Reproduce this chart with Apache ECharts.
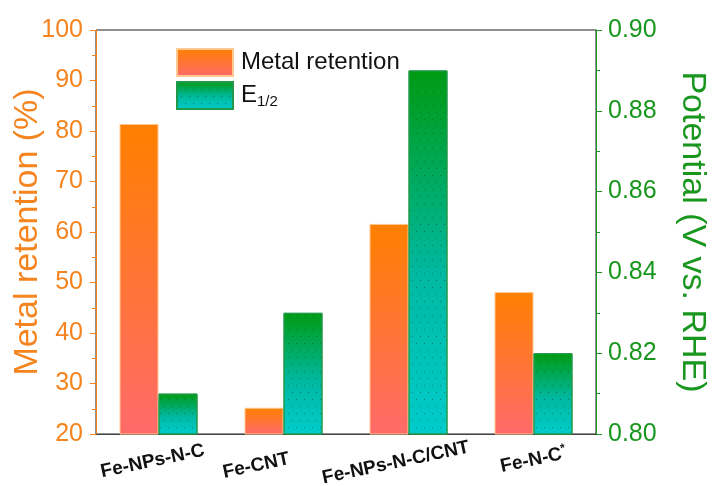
<!DOCTYPE html>
<html>
<head>
<meta charset="utf-8">
<script src="https://cdn.jsdelivr.net/npm/echarts@6/dist/echarts.min.js"></script>
<style>
  html, body { margin: 0; padding: 0; background: #fff; }
  #main { width: 712px; height: 486px; }
</style>
</head>
<body>
<div id="main"></div>
<script>
var categories = ['Fe-NPs-N-C', 'Fe-CNT', 'Fe-NPs-N-C/CNT', 'Fe-N-C*'];
var metalRetention = [81.4, 25.2, 61.6, 48.1];
var halfWavePotential = [0.810, 0.830, 0.890, 0.820];
var leftTicks = { min: 20, max: 100, interval: 10 };
var rightTicks = { min: 0.80, max: 0.90, interval: 0.02 };

var orange = '#F5841F';
var green = '#19961E';
// the original labels sit a little left of their category, by different amounts
var labelPadRight = [12, 56, 26, 0];

var chart = echarts.init(document.getElementById('main'));

var option = {
    animation: false,
    grid: {
        left: 96, right: 116, top: 30, bottom: 52,
        outerBoundsMode: 'none', containLabel: false,
        show: true, borderColor: '#222', borderWidth: 1
    },
    legend: {
        orient: 'vertical',
        left: 176, top: 48, padding: 0,
        itemWidth: 56, itemHeight: 27, itemGap: 4,
        icon: 'rect',
        data: ['Metal retention', 'E1/2'],
        formatter: function (name) {
            return name === 'E1/2' ? 'E{sub|1/2}' : name;
        },
        textStyle: {
            fontFamily: 'Liberation Sans, Arial', fontSize: 24, color: '#111',
            padding: [0, 0, 0, 3],
            rich: { sub: { fontSize: 15, verticalAlign: 'bottom', padding: [12, 0, 0, 0], color: '#111' } }
        }
    },
    xAxis: {
        type: 'category',
        data: categories,
        axisTick: { show: false },
        axisLine: { lineStyle: { color: '#444', width: 1 } },
        axisLabel: {
            rotate: 12, margin: 26, interval: 0,
            align: 'center', verticalAlign: 'middle',
            fontFamily: 'Liberation Sans, Arial', fontWeight: 'bold', fontSize: 19, color: '#111',
            formatter: function (v, i) {
                var txt = v.slice(-1) === '*' ? v.slice(0, -1) + '{sup|*}' : v;
                return txt + '{p' + i + '|}';
            },
            rich: {
                sup: { fontSize: 12, fontWeight: 'bold', verticalAlign: 'top', padding: [0, 0, 10, 0], color: '#111' },
                p0: { width: labelPadRight[0] },
                p1: { width: labelPadRight[1] },
                p2: { width: labelPadRight[2] },
                p3: { width: labelPadRight[3] }
            }
        }
    },
    yAxis: [
        {
            type: 'value',
            min: leftTicks.min, max: leftTicks.max, interval: leftTicks.interval,
            position: 'left',
            name: 'Metal retention (%)',
            nameLocation: 'middle', nameGap: 51, nameMoveOverlap: false,
            nameTextStyle: { fontFamily: 'Liberation Sans, Arial', fontSize: 34, color: orange },
            axisLine: { show: true, lineStyle: { color: orange, width: 1 } },
            axisTick: { show: true, length: 6, lineStyle: { color: orange } },
            minorTick: { show: true, splitNumber: 2, length: 4, lineStyle: { color: orange } },
            splitLine: { show: false },
            axisLabel: { fontFamily: 'Liberation Sans, Arial', fontSize: 25, color: orange, margin: 13 }
        },
        {
            type: 'value',
            min: rightTicks.min, max: rightTicks.max, interval: rightTicks.interval,
            position: 'right',
            name: 'Potential (V vs. RHE)',
            nameLocation: 'middle', nameGap: 79, nameRotate: -90, nameMoveOverlap: false,
            nameTextStyle: { fontFamily: 'Liberation Sans, Arial', fontSize: 34, color: green },
            axisLine: { show: true, lineStyle: { color: green, width: 1 } },
            axisTick: { show: true, length: 6, lineStyle: { color: green } },
            minorTick: { show: true, splitNumber: 2, length: 4, lineStyle: { color: green } },
            splitLine: { show: false },
            axisLabel: {
                fontFamily: 'Liberation Sans, Arial', fontSize: 25, color: green, margin: 12,
                formatter: function (v) { return v.toFixed(2); }
            }
        }
    ],
    series: [
        {
            name: 'Metal retention',
            type: 'bar',
            yAxisIndex: 0,
            barWidth: 39,
            barGap: '0%',
            data: metalRetention,
            itemStyle: {
                color: new echarts.graphic.LinearGradient(0, 0, 0, 1, [
                    { offset: 0, color: '#FF8000' },
                    { offset: 1, color: '#FF6A6A' }
                ]),
                borderColor: '#FFC890', borderWidth: 1
            }
        },
        {
            name: 'E1/2',
            type: 'bar',
            yAxisIndex: 1,
            barWidth: 39,
            barGap: '0%',
            data: halfWavePotential,
            itemStyle: {
                color: new echarts.graphic.LinearGradient(0, 0, 0, 1, [
                    { offset: 0, color: '#009A12' },
                    { offset: 0.55, color: '#00B8A0' },
                    { offset: 1, color: '#00CCCC' }
                ]),
                borderColor: '#22994A', borderWidth: 1,
                decal: {
                    symbol: 'rect', symbolSize: 1,
                    color: 'rgba(0,90,40,0.6)',
                    dashArrayX: [[1, 7], [0, 4, 1, 3]],
                    dashArrayY: [1, 6],
                    rotation: 0
                }
            }
        }
    ]
};

chart.setOption(option);
window.addEventListener('resize', chart.resize);
</script>
</body>
</html>
